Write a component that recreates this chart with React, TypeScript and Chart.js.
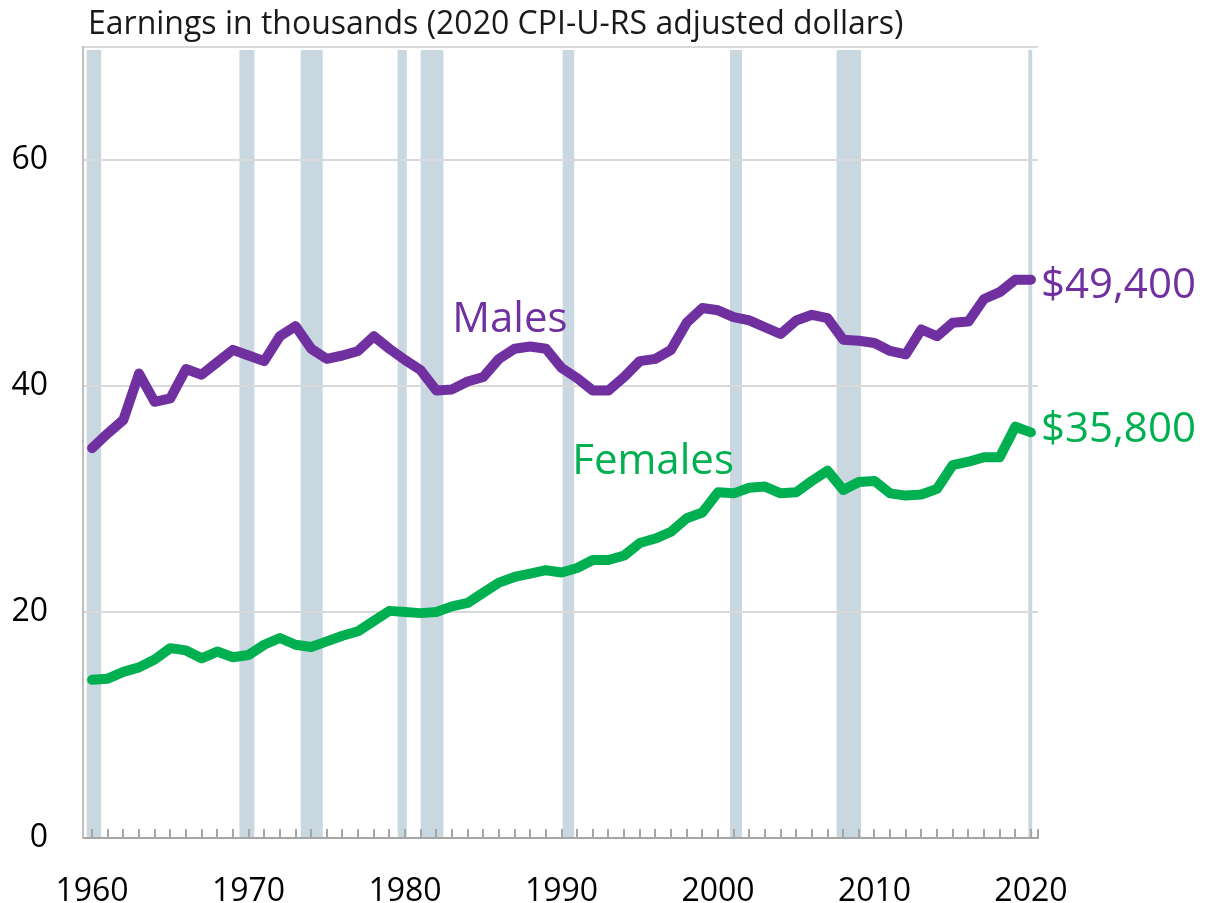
import { useEffect, useRef } from 'react';
import { Chart, registerables } from 'chart.js';
Chart.register(...registerables);

const FONT = "'Open Sans', sans-serif";

const years = [
  1960, 1961, 1962, 1963, 1964, 1965, 1966, 1967, 1968, 1969,
  1970, 1971, 1972, 1973, 1974, 1975, 1976, 1977, 1978, 1979,
  1980, 1981, 1982, 1983, 1984, 1985, 1986, 1987, 1988, 1989,
  1990, 1991, 1992, 1993, 1994, 1995, 1996, 1997, 1998, 1999,
  2000, 2001, 2002, 2003, 2004, 2005, 2006, 2007, 2008, 2009,
  2010, 2011, 2012, 2013, 2014, 2015, 2016, 2017, 2018, 2019,
  2020,
];

const males = [
  34.5, 35.8, 37.0, 41.1, 38.6, 38.9, 41.5, 41.0, 42.1, 43.2,
  42.7, 42.2, 44.4, 45.3, 43.3, 42.4, 42.7, 43.1, 44.4, 43.3,
  42.3, 41.4, 39.6, 39.7, 40.4, 40.8, 42.4, 43.3, 43.5, 43.3,
  41.6, 40.7, 39.6, 39.6, 40.8, 42.2, 42.4, 43.2, 45.6, 46.9,
  46.7, 46.1, 45.8, 45.2, 44.6, 45.8, 46.3, 46.0, 44.1, 44.0,
  43.8, 43.1, 42.8, 45.0, 44.4, 45.6, 45.7, 47.7, 48.3, 49.4,
  49.4,
];

const females = [
  14.0, 14.1, 14.7, 15.1, 15.8, 16.8, 16.6, 15.9, 16.5, 16.0,
  16.2, 17.1, 17.7, 17.1, 16.9, 17.4, 17.9, 18.3, 19.2, 20.1,
  20.0, 19.9, 20.0, 20.5, 20.8, 21.7, 22.6, 23.1, 23.4, 23.7,
  23.5, 23.9, 24.6, 24.6, 25.0, 26.1, 26.5, 27.1, 28.3, 28.8,
  30.6, 30.5, 31.0, 31.1, 30.5, 30.6, 31.6, 32.5, 30.8, 31.5,
  31.6, 30.5, 30.3, 30.4, 30.9, 33.0, 33.3, 33.7, 33.7, 36.4,
  35.9,
];

const recessionStart = [1959.66, 1969.42, 1973.33, 1979.53, 1981.0, 1990.07, 2000.77, 2007.58, 2019.83];
const recessionEnd = [1960.58, 1970.37, 1974.74, 1980.11, 1982.45, 1990.81, 2001.53, 2009.14, 2020.08];

const yTicks = [0, 20, 40, 60, 70];
const xTickLabels = [1960, 1970, 1980, 1990, 2000, 2010, 2020];

const titleText = 'Earnings in thousands (2020 CPI-U-RS adjusted dollars)';
const maleEndLabel = '$49,400';
const femaleEndLabel = '$35,800';

const PURPLE = '#7030a0';
const GREEN = '#00b050';

const recessionPlugin = {
  id: 'recessions',
  beforeDraw(chart: any) {
    const { ctx, chartArea, scales } = chart;
    const x = scales.x;
    ctx.save();
    ctx.fillStyle = '#c9d7e1';
    for (let i = 0; i < recessionStart.length; i++) {
      const x0 = x.getPixelForValue(recessionStart[i]);
      const x1 = x.getPixelForValue(recessionEnd[i]);
      ctx.fillRect(x0, chartArea.top + 3, x1 - x0, chartArea.bottom - chartArea.top - 3);
    }
    ctx.restore();
  },
};

const overlayPlugin = {
  id: 'overlay',
  afterDraw(chart: any) {
    const { ctx, chartArea, scales } = chart;
    const x = scales.x;
    const y = scales.y;
    ctx.save();
    // minor tick marks (inside)
    ctx.strokeStyle = '#a6a6a6';
    ctx.lineWidth = 2;
    const tickXs = years.map((yr) => x.getPixelForValue(yr));
    tickXs.push(chartArea.right);
    ctx.beginPath();
    for (const px of tickXs) {
      const p = Math.round(px);
      ctx.moveTo(p, chartArea.bottom);
      ctx.lineTo(p, chartArea.bottom - 9);
    }
    ctx.stroke();

    // title
    ctx.fillStyle = '#1a1a1a';
    ctx.font = `32px ${FONT}`;
    ctx.textBaseline = 'alphabetic';
    ctx.textAlign = 'left';
    ctx.fillText(titleText, chartArea.left + 5, 34);

    // series labels
    ctx.font = `42px ${FONT}`;
    ctx.textAlign = 'center';
    ctx.textBaseline = 'middle';
    ctx.fillStyle = PURPLE;
    ctx.fillText('Males', x.getPixelForValue(1986.7), y.getPixelForValue(45.8));
    ctx.fillStyle = GREEN;
    ctx.fillText('Females', x.getPixelForValue(1995.85), y.getPixelForValue(33.3));

    // end labels
    ctx.textAlign = 'left';
    const lastX = x.getPixelForValue(years[years.length - 1]) + 10;
    ctx.fillStyle = PURPLE;
    ctx.fillText(maleEndLabel, lastX, y.getPixelForValue(males[males.length - 1]) + 6);
    ctx.fillStyle = GREEN;
    ctx.fillText(femaleEndLabel, lastX, y.getPixelForValue(females[females.length - 1]) - 2);
    ctx.restore();
  },
};

export default function App() {
  const ref = useRef<HTMLCanvasElement>(null);
  useEffect(() => {
    document.body.style.margin = '0';
    const canvas = ref.current!;
    const chart = new Chart(canvas, {
      type: 'line',
      data: {
        datasets: [
          {
            label: 'Males',
            data: years.map((yr, i) => ({ x: yr, y: males[i] })),
            borderColor: PURPLE,
            borderWidth: 10,
            pointRadius: 0,
            tension: 0,
            borderJoinStyle: 'round',
            borderCapStyle: 'round',
          },
          {
            label: 'Females',
            data: years.map((yr, i) => ({ x: yr, y: females[i] })),
            borderColor: GREEN,
            borderWidth: 10,
            pointRadius: 0,
            tension: 0,
            borderJoinStyle: 'round',
            borderCapStyle: 'round',
          },
        ],
      },
      options: {
        responsive: false,
        animation: false,
        layout: { padding: { left: 0, right: 167, top: 47, bottom: 0 } },
        plugins: {
          legend: { display: false },
          tooltip: { enabled: false },
          title: { display: false },
        },
        scales: {
          x: {
            type: 'linear',
            min: 1959.42,
            max: 2020.45,
            grid: { display: false },
            border: { display: true, color: '#a6a6a6', width: 2 },
            afterBuildTicks: (scale: any) => {
              scale.ticks = xTickLabels.map((v) => ({ value: v }));
            },
            afterFit: (scale: any) => {
              scale.height = 65;
              scale.paddingLeft = 0;
              scale.paddingRight = 0;
            },
            ticks: {
              autoSkip: false,
              maxRotation: 0,
              padding: 27,
              color: '#000',
              font: { family: FONT, size: 32 },
              callback: (v: any) => String(v),
            },
          },
          y: {
            type: 'linear',
            min: 0,
            max: 70,
            afterBuildTicks: (scale: any) => {
              scale.ticks = yTicks.map((v) => ({ value: v }));
            },
            afterFit: (scale: any) => {
              scale.width = 83;
              scale.paddingTop = 0;
              scale.paddingBottom = 0;
            },
            grid: {
              drawTicks: false,
              lineWidth: 2,
              color: (c: any) => (c.tick && c.tick.value === 0 ? 'rgba(0,0,0,0)' : '#d9d9d9'),
            },
            border: { display: true, color: '#bfbfbf', width: 2 },
            ticks: {
              padding: 35,
              color: '#000',
              font: { family: FONT, size: 32 },
              callback: (v: any) => (v === 70 ? '' : String(v)),
            },
          },
        },
      },
      plugins: [recessionPlugin, overlayPlugin],
    });
    return () => chart.destroy();
  }, []);
  return (
    <div style={{ position: 'relative', width: 1205, height: 903 }}>
      <canvas ref={ref} width={1205} height={903} style={{ width: 1205, height: 903, display: 'block' }} />
    </div>
  );
}
